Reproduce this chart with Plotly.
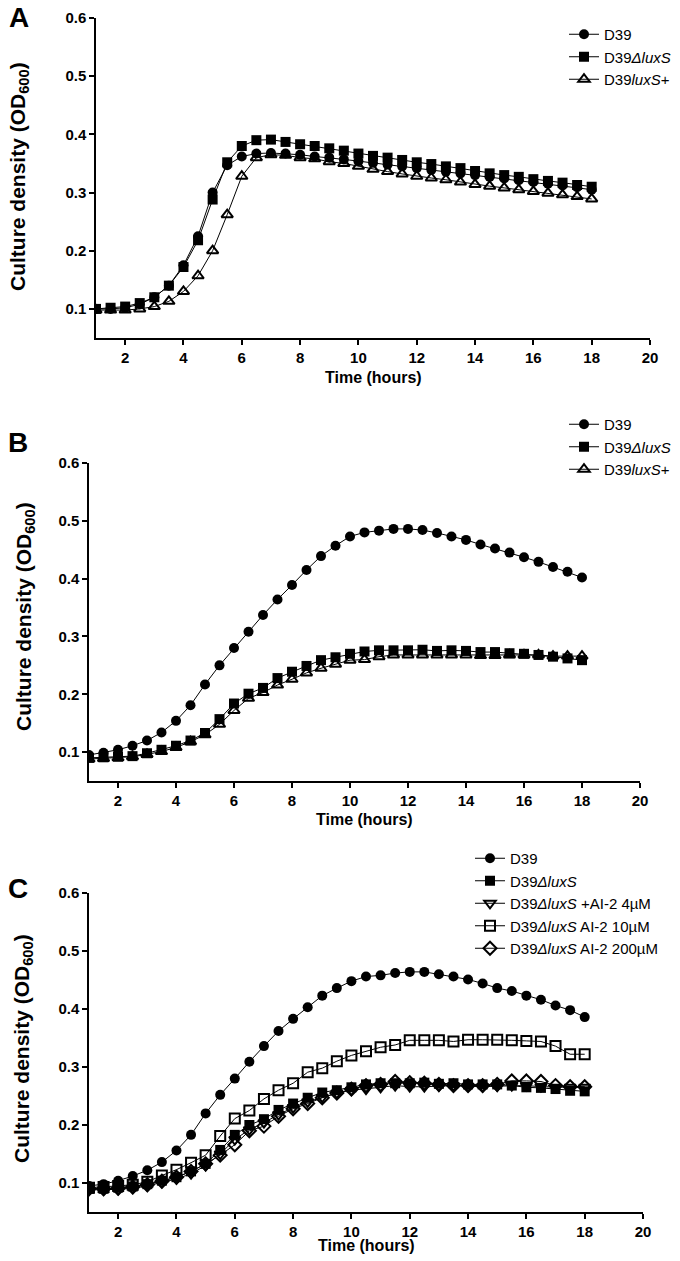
import plotly.graph_objects as go

# ---------------- data ----------------
hours = [1 + 0.5 * i for i in range(35)]  # 1 .. 18 h every 30 min

# Panel A
a_d39 = [0.100, 0.100, 0.102, 0.108, 0.120, 0.140, 0.175, 0.225, 0.300, 0.347,
         0.362, 0.367, 0.368, 0.367, 0.365, 0.362, 0.360, 0.357, 0.354, 0.351,
         0.348, 0.345, 0.342, 0.339, 0.336, 0.333, 0.330, 0.327, 0.324, 0.321,
         0.318, 0.315, 0.312, 0.309, 0.305]
a_dluxs = [0.100, 0.102, 0.104, 0.110, 0.120, 0.140, 0.172, 0.218, 0.288, 0.352,
           0.380, 0.390, 0.391, 0.387, 0.383, 0.380, 0.376, 0.372, 0.367, 0.363,
           0.360, 0.356, 0.352, 0.349, 0.345, 0.342, 0.337, 0.333, 0.330, 0.327,
           0.323, 0.320, 0.317, 0.313, 0.310]
a_luxsplus = [0.098, 0.098, 0.098, 0.100, 0.104, 0.113, 0.130, 0.157, 0.200, 0.262,
              0.328, 0.360, 0.365, 0.364, 0.360, 0.358, 0.353, 0.350, 0.345, 0.340,
              0.336, 0.332, 0.328, 0.325, 0.322, 0.318, 0.314, 0.311, 0.308, 0.305,
              0.302, 0.299, 0.296, 0.293, 0.289]

# Panel B
b_d39 = [0.095, 0.099, 0.104, 0.111, 0.120, 0.134, 0.154, 0.181, 0.217, 0.250,
         0.280, 0.308, 0.337, 0.364, 0.389, 0.415, 0.439, 0.457, 0.473, 0.480,
         0.483, 0.486, 0.486, 0.484, 0.479, 0.473, 0.467, 0.459, 0.452, 0.445,
         0.437, 0.429, 0.420, 0.412, 0.402]
b_dluxs = [0.090, 0.091, 0.092, 0.093, 0.098, 0.104, 0.111, 0.120, 0.133, 0.157,
           0.184, 0.201, 0.211, 0.228, 0.239, 0.249, 0.259, 0.264, 0.270, 0.274,
           0.276, 0.276, 0.276, 0.277, 0.275, 0.276, 0.275, 0.273, 0.273, 0.271,
           0.270, 0.268, 0.265, 0.262, 0.259]
b_luxsplus = [0.088, 0.089, 0.090, 0.092, 0.096, 0.101, 0.108, 0.118, 0.130, 0.148,
              0.172, 0.193, 0.203, 0.216, 0.226, 0.237, 0.245, 0.252, 0.259, 0.260,
              0.265, 0.268, 0.268, 0.268, 0.268, 0.268, 0.268, 0.267, 0.267, 0.268,
              0.268, 0.268, 0.266, 0.266, 0.266]

# Panel C
c_d39 = [0.095, 0.098, 0.104, 0.112, 0.122, 0.136, 0.156, 0.183, 0.220, 0.252,
         0.280, 0.309, 0.336, 0.362, 0.383, 0.403, 0.423, 0.436, 0.448, 0.456,
         0.458, 0.462, 0.464, 0.464, 0.460, 0.456, 0.451, 0.444, 0.436, 0.431,
         0.423, 0.416, 0.406, 0.398, 0.386]
c_dluxs = [0.090, 0.090, 0.092, 0.094, 0.098, 0.104, 0.110, 0.120, 0.133, 0.157,
           0.183, 0.200, 0.210, 0.226, 0.237, 0.247, 0.256, 0.260, 0.265, 0.270,
           0.272, 0.272, 0.272, 0.273, 0.271, 0.272, 0.270, 0.270, 0.270, 0.268,
           0.265, 0.264, 0.262, 0.259, 0.258]
c_ai2_4 = [0.088, 0.088, 0.089, 0.091, 0.095, 0.101, 0.107, 0.116, 0.130, 0.150,
           0.175, 0.192, 0.204, 0.218, 0.230, 0.240, 0.248, 0.255, 0.260, 0.262,
           0.265, 0.268, 0.266, 0.266, 0.267, 0.268, 0.267, 0.266, 0.267, 0.268,
           0.268, 0.266, 0.265, 0.265, 0.265]
c_ai2_10 = [0.092, 0.093, 0.095, 0.097, 0.102, 0.113, 0.123, 0.135, 0.148, 0.181,
            0.211, 0.225, 0.245, 0.260, 0.272, 0.291, 0.298, 0.310, 0.320, 0.327,
            0.334, 0.338, 0.346, 0.346, 0.346, 0.344, 0.347, 0.347, 0.347, 0.346,
            0.345, 0.344, 0.336, 0.322, 0.322]
c_ai2_200 = [0.090, 0.090, 0.091, 0.093, 0.097, 0.103, 0.110, 0.120, 0.133, 0.148,
             0.166, 0.190, 0.198, 0.215, 0.228, 0.237, 0.247, 0.255, 0.262, 0.268,
             0.270, 0.275, 0.273, 0.272, 0.270, 0.268, 0.268, 0.268, 0.270, 0.276,
             0.276, 0.275, 0.268, 0.266, 0.266]

x_ticks = [2, 4, 6, 8, 10, 12, 14, 16, 18, 20]
y_ticks = [0.1, 0.2, 0.3, 0.4, 0.5, 0.6]

# ---------------- styling ----------------
OFF = 8                       # default margin of the html body around the figure
W, H = 680 - OFF, 1261 - OFF  # visible figure size
FONT = "Liberation Sans, Arial, sans-serif"

def px_x(p):
    return (p - OFF) / W

def px_y(p):
    return 1 - (p - OFF) / H

panels = [
    # (axis suffix, legend name, x-domain px, y-domain px (top, bottom)) in page pixels
    ("", "legend", (96, 650), (18, 338)),
    ("2", "legend2", (89, 640), (463, 781)),
    ("3", "legend3", (89, 643), (893, 1212)),
]

series = [
    [("D39", a_d39, "circle"),
     ("D39<i>ΔluxS</i>", a_dluxs, "square"),
     ("D39<i>luxS</i>+", a_luxsplus, "triangle-up-open")],
    [("D39", b_d39, "circle"),
     ("D39<i>ΔluxS</i>", b_dluxs, "square"),
     ("D39<i>luxS</i>+", b_luxsplus, "triangle-up-open")],
    [("D39", c_d39, "circle"),
     ("D39<i>ΔluxS</i>", c_dluxs, "square"),
     ("D39<i>ΔluxS</i> +AI-2 4µM", c_ai2_4, "triangle-down-open"),
     ("D39<i>ΔluxS</i> AI-2 10µM", c_ai2_10, "square-open"),
     ("D39<i>ΔluxS</i> AI-2 200µM", c_ai2_200, "diamond-open")],
]

fig = go.Figure()

for (suf, leg, _, _), group in zip(panels, series):
    for name, vals, sym in group:
        fig.add_trace(go.Scatter(
            x=hours, y=vals, name=name, mode="lines+markers",
            xaxis="x" + suf, yaxis="y" + suf, legend=leg,
            line=dict(color="black", width=1),
            marker=dict(symbol=sym, size=10, color="black",
                        line=dict(color="black", width=2 if "open" in sym else 0)),
        ))

axis_common = dict(
    showline=True, linecolor="black", linewidth=1.5,
    ticks="outside", ticklen=5, tickwidth=1.5, tickcolor="black",
    showgrid=False, zeroline=False, automargin=False,
    tickfont=dict(family=FONT, size=15, color="black", weight="bold"),
)

layout = dict(
    width=W, height=H, margin=dict(l=0, r=0, t=0, b=0, autoexpand=False),
    paper_bgcolor="white", plot_bgcolor="white",
    font=dict(family=FONT, color="black"),
    annotations=[],
)

# (left page px, top page px)
legend_pos = {
    "legend": (564, 18),
    "legend2": (564, 408),
    "legend3": (470, 842),
}

xt_y = [378, 819, 1245]
yt = [(19, 177), (25, 617), (23, 1049)]
letters = [("A", 19, 18), ("B", 18, 443), ("C", 18, 888)]

for i, (suf, leg, (x0, x1), (yt0, yb)) in enumerate(panels):
    xa = dict(axis_common, domain=[px_x(x0), px_x(x1)], range=[1, 20],
              tickvals=x_ticks, anchor="y" + suf)
    ya = dict(axis_common, domain=[px_y(yb), px_y(yt0)], range=[0.05, 0.6],
              tickvals=y_ticks, tickformat=".1f", anchor="x" + suf)
    layout["xaxis" + suf] = xa
    layout["yaxis" + suf] = ya
    lx, ly = legend_pos[leg]
    layout[leg] = dict(
        x=px_x(lx), y=px_y(ly), xanchor="left", yanchor="top",
        bgcolor="rgba(0,0,0,0)", borderwidth=0,
        font=dict(family=FONT, size=15, color="black"),
        itemwidth=30, tracegroupgap=0,
    )
    # axis titles
    layout["annotations"].append(dict(
        text="Time (hours)", xref="paper", yref="paper",
        x=px_x((x0 + x1) / 2), y=px_y(xt_y[i]), xanchor="center", yanchor="middle",
        showarrow=False, font=dict(family=FONT, size=16, color="black", weight="bold")))
    layout["annotations"].append(dict(
        text="Culture density (OD<sub>600</sub>)", xref="paper", yref="paper",
        x=px_x(yt[i][0]), y=px_y(yt[i][1]), xanchor="center", yanchor="middle",
        textangle=-90, showarrow=False,
        font=dict(family=FONT, size=21, color="black", weight="bold")))
    L, lxp, lyp = letters[i]
    layout["annotations"].append(dict(
        text=L, xref="paper", yref="paper", x=px_x(lxp), y=px_y(lyp),
        xanchor="center", yanchor="middle", showarrow=False,
        font=dict(family=FONT, size=28, color="black", weight="bold")))

fig.update_layout(**layout)
fig.write_html("out.html")
